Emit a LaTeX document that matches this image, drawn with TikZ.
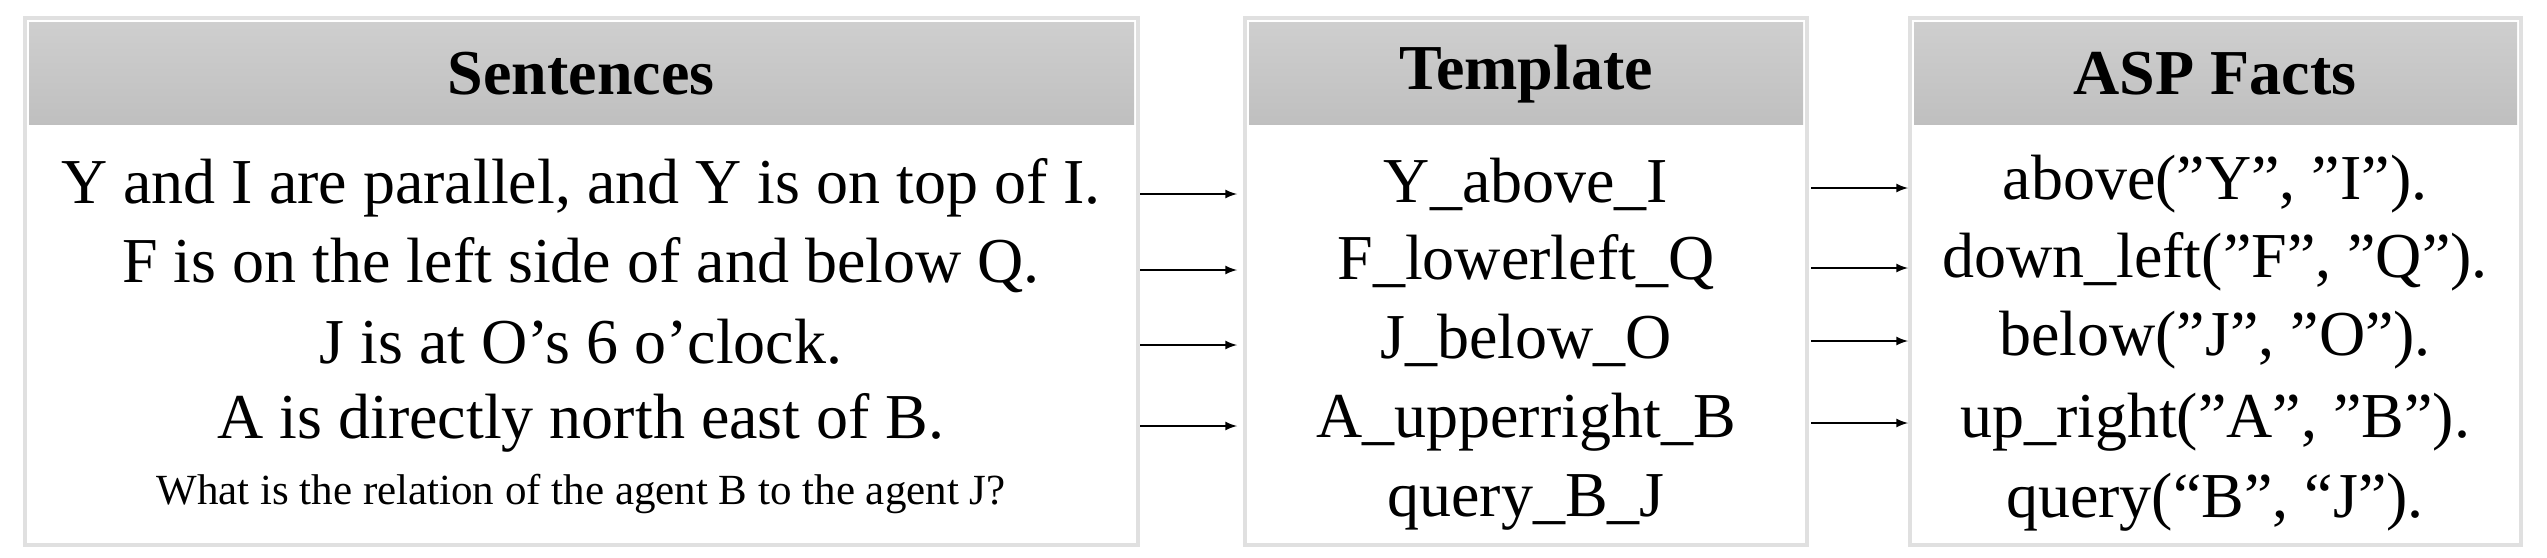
\documentclass[tikz,border=0pt]{standalone}
\usepackage{fontspec}
\setmainfont{Liberation Serif}
\begin{document}
\begin{tikzpicture}[x=0.5pt,y=-0.5pt,
  frame/.style={draw=black!12,line width=2pt},
  head/.style={top color=black!19,bottom color=black!25,draw=none},
  htext/.style={font=\fontsize{32}{36}\selectfont\bfseries,anchor=center},
  txt/.style={font=\fontsize{32}{36}\selectfont,anchor=center,inner sep=0pt},
  arr/.style={-latex,line width=1pt}]
\useasboundingbox (0,0) rectangle (2547,557);
% boxes
\draw[frame] (25,18) rectangle (1138,545);
\fill[head] (29,22) rectangle (1134,124);
\draw[frame] (1245,18) rectangle (1807,545);
\fill[head] (1249,22) rectangle (1803,124);
\draw[frame] (1910,18) rectangle (2521,545);
\fill[head] (1914,22) rectangle (2517,124);
\node[htext] (h1) at (581,74) {Sentences};
\node[htext] (h2) at (1526,74) {Template};
\node[htext] (h3) at (2215,74) {ASP Facts};
% sentences
\node[txt] (s1) at (581,188) {Y and I are parallel, and Y is on top of I.};
\node[txt] (s2) at (581,265) {F is on the left side of and below Q.};
\node[txt] (s3) at (581,342) {J is at O's 6 o'clock.};
\node[txt] (s4) at (581,423) {A is directly north east of B.};
\node[txt,font=\fontsize{21.5}{24}\selectfont] (s5) at (581,494) {What is the relation of the agent B to the agent J?};
% templates
\node[txt] (t1) at (1526,184) {Y\_above\_I};
\node[txt] (t2) at (1526,262) {F\_lowerleft\_Q};
\node[txt] (t3) at (1526,340) {J\_below\_O};
\node[txt] (t4) at (1526,422) {A\_upperright\_B};
\node[txt] (t5) at (1526,502) {query\_B\_J};
% facts
\node[txt] (f1) at (2215,184) {above("Y", "I").};
\node[txt] (f2) at (2215,262) {down\_left("F", "Q").};
\node[txt] (f3) at (2215,340) {below("J", "O").};
\node[txt] (f4) at (2215,422) {up\_right("A", "B").};
\node[txt] (f5) at (2215,502) {query(“B”, “J”).};
% arrows
\coordinate (a1) at (1140,194); \coordinate (b1) at (1237,194);
\coordinate (a2) at (1140,270); \coordinate (b2) at (1237,270);
\coordinate (a3) at (1140,345); \coordinate (b3) at (1237,345);
\coordinate (a4) at (1140,426); \coordinate (b4) at (1237,426);
\coordinate (c1) at (1811,188); \coordinate (d1) at (1908,188);
\coordinate (c2) at (1811,268); \coordinate (d2) at (1908,268);
\coordinate (c3) at (1811,341); \coordinate (d3) at (1908,341);
\coordinate (c4) at (1811,423); \coordinate (d4) at (1908,423);
\foreach \i in {1,2,3,4}{\draw[arr] (a\i) -- (b\i); \draw[arr] (c\i) -- (d\i);}
\end{tikzpicture}
\end{document}
